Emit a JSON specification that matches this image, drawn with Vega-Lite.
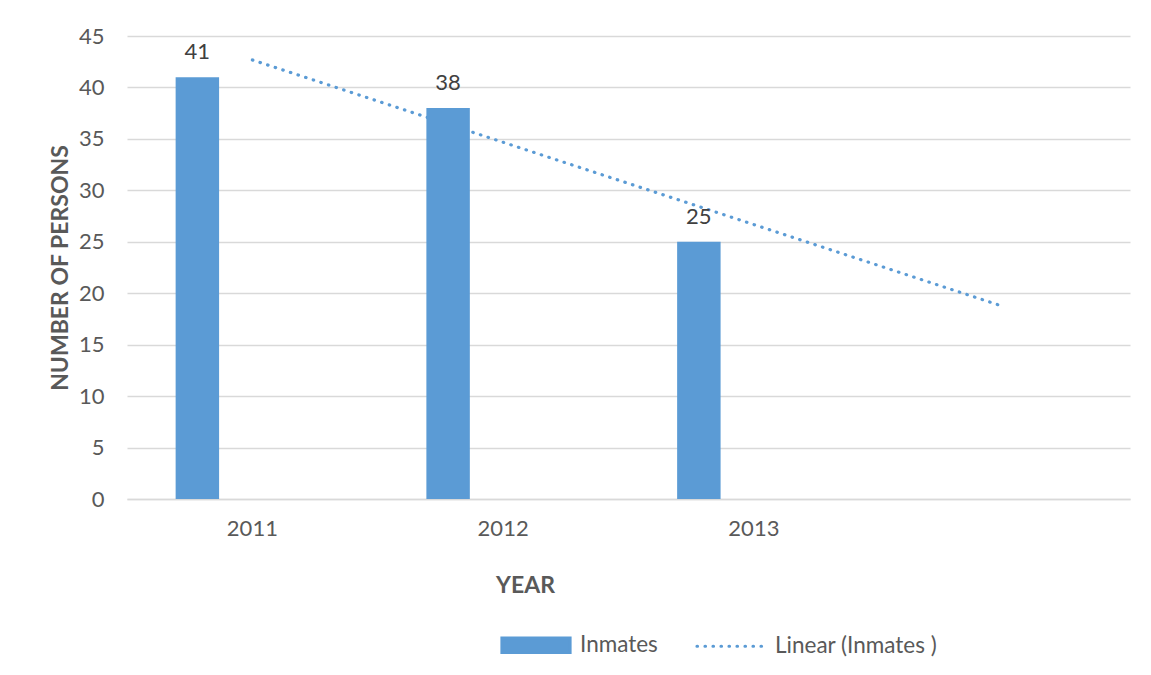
{
  "$schema": "https://vega.github.io/schema/vega-lite/v6.json",
  "width": 1003,
  "height": 463,
  "autosize": "none",
  "padding": {"left": 127, "top": 36, "right": 21, "bottom": 176},
  "background": "white",
  "config": {
    "font": "Lato",
    "view": {"stroke": null},
    "axis": {"labelFont": "Lato", "labelFontSize": 22, "labelColor": "#595959", "titleFont": "Lato", "titleFontSize": 23, "titleColor": "#595959", "titleFontWeight": "bold"}
  },
  "datasets": {
    "bars": [
      {"year": "2011", "series": "Inmates", "value": 41},
      {"year": "2012", "series": "Inmates", "value": 38},
      {"year": "2013", "series": "Inmates", "value": 25}
    ],
    "trend": [
      {"year": "2011", "series": "Linear (Inmates )", "trend": 42.67},
      {"year": "2012", "series": "Linear (Inmates )", "trend": 34.67},
      {"year": "2013", "series": "Linear (Inmates )", "trend": 26.67},
      {"year": "2014", "series": "Linear (Inmates )", "trend": 18.67}
    ]
  },
  "layer": [
    {
      "data": {"name": "trend"},
      "mark": {"type": "line", "strokeDash": [0.5, 7.5], "strokeCap": "round", "strokeWidth": 3.2},
      "encoding": {
        "x": {
          "field": "year", "type": "ordinal",
          "scale": {"domain": ["2011", "2012", "2013", "2014"], "paddingInner": 0, "paddingOuter": 0},
          "axis": {
            "title": "YEAR", "labelAngle": 0, "labelExpr": "datum.value === '2014' ? '' : datum.label",
            "ticks": false, "domainColor": "#D9D9D9", "domainWidth": 1.3, "labelPadding": 19,
            "titleX": 398, "titleY": 86, "titleBaseline": "middle", "titleAlign": "center"
          }
        },
        "y": {
          "field": "trend", "type": "quantitative",
          "scale": {"domain": [0, 45], "nice": false},
          "axis": {
            "title": "NUMBER OF PERSONS", "values": [0, 5, 10, 15, 20, 25, 30, 35, 40, 45],
            "domain": false, "ticks": false, "gridColor": "#D9D9D9", "gridWidth": 1.3, "labelPadding": 23,
            "titleX": -67, "titleY": 231.5, "titleAngle": 270, "titleBaseline": "middle", "titleAlign": "center"
          }
        },
        "color": {
          "field": "series", "type": "nominal",
          "scale": {"domain": ["Inmates", "Linear (Inmates )"], "range": ["#5B9BD5", "#5B9BD5"]},
          "legend": {
            "orient": "none", "legendX": 373, "legendY": 573, "direction": "horizontal", "title": null,
            "padding": 0, "symbolSize": 4624, "labelFont": "Lato", "labelFontSize": 22.5, "labelColor": "#595959",
            "labelOffset": 8, "columnPadding": 32, "labelLimit": 400,
            "encode": {
              "symbols": {
                "update": {
                  "shape": {"signal": "datum.value === 'Inmates' ? 'M-1,-0.21H1V0.21H-1Z' : 'M-1,0H1'"},
                  "fill": {"signal": "datum.value === 'Inmates' ? '#5B9BD5' : 'transparent'"},
                  "stroke": {"signal": "datum.value === 'Inmates' ? 'transparent' : '#5B9BD5'"},
                  "strokeWidth": {"value": 3.2},
                  "strokeCap": {"value": "round"},
                  "strokeDash": {"signal": "datum.value === 'Inmates' ? [] : [0.5, 7.5]"},
                  "opacity": {"value": 1}
                }
              }
            }
          }
        }
      }
    },
    {
      "data": {"name": "bars"},
      "mark": {"type": "bar"},
      "encoding": {
        "x": {"field": "year", "type": "ordinal"},
        "xOffset": {"field": "series", "type": "nominal", "scale": {"domain": ["Inmates", "_"], "paddingInner": 0.605, "paddingOuter": 0.442}},
        "y": {"field": "value", "type": "quantitative"},
        "color": {"field": "series", "type": "nominal"}
      }
    },
    {
      "data": {"name": "bars"},
      "mark": {"type": "text", "font": "Lato", "fontSize": 22, "color": "#404040", "baseline": "alphabetic", "dy": -18},
      "encoding": {
        "x": {"field": "year", "type": "ordinal"},
        "xOffset": {"field": "series", "type": "nominal"},
        "y": {"field": "value", "type": "quantitative"},
        "text": {"field": "value", "type": "quantitative"}
      }
    }
  ]
}
